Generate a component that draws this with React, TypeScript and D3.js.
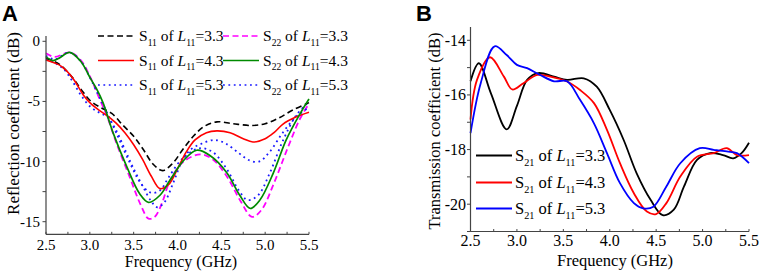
import React from "react";
import * as d3 from "d3";

// ---------- Panel A data (Reflection coefficient, dB) ----------
const fS11_33 = [2.5, 2.65, 2.8, 2.9, 3.0, 3.12, 3.25, 3.38, 3.5, 3.61, 3.72, 3.83, 3.95, 4.06, 4.18, 4.3, 4.45, 4.63, 4.85, 5.0, 5.15, 5.32, 5.5];
const vS11_33 = [-1.4, -1.9, -3.0, -4.0, -4.9, -5.5, -6.0, -7.0, -7.9, -9.0, -10.2, -10.75, -10.1, -9.0, -7.9, -7.1, -6.7, -6.85, -7.0, -6.85, -6.4, -5.7, -5.1];

const fS11_43 = [2.5, 2.6, 2.68, 2.8, 2.93, 3.0, 3.1, 3.2, 3.3, 3.4, 3.5, 3.6, 3.7, 3.8, 3.9, 4.0, 4.1, 4.2, 4.33, 4.45, 4.6, 4.75, 4.86, 5.0, 5.1, 5.2, 5.35, 5.5];
const vS11_43 = [-1.55, -1.8, -2.1, -3.0, -4.5, -5.1, -5.7, -6.2, -6.8, -7.6, -8.6, -9.8, -11.2, -12.25, -11.9, -10.6, -9.2, -8.2, -7.6, -7.45, -7.6, -8.1, -8.37, -8.1, -7.6, -6.9, -6.3, -5.9];

const fS11_53 = [2.5, 2.6, 2.7, 2.8, 2.9, 3.0, 3.1, 3.2, 3.3, 3.4, 3.5, 3.6, 3.7, 3.77, 3.85, 3.95, 4.05, 4.15, 4.28, 4.42, 4.55, 4.7, 4.82, 4.93, 5.05, 5.2, 5.35, 5.5];
const vS11_53 = [-1.5, -1.8, -2.3, -3.3, -4.5, -5.4, -5.9, -6.3, -7.4, -9.0, -10.6, -12.0, -13.3, -13.8, -13.4, -11.8, -10.0, -9.0, -8.5, -8.2, -8.5, -9.3, -9.9, -10.0, -9.2, -7.6, -6.3, -5.5];

const fS22_33 = [2.5, 2.6, 2.77, 2.9, 3.0, 3.1, 3.2, 3.3, 3.45, 3.58, 3.67, 3.74, 3.82, 3.92, 4.07, 4.26, 4.4, 4.56, 4.72, 4.85, 4.96, 5.1, 5.25, 5.4, 5.5];
const vS22_33 = [-1.0, -1.3, -0.92, -1.6, -2.9, -4.6, -6.3, -8.4, -11.2, -13.6, -14.75, -14.6, -13.5, -11.5, -10.0, -9.4, -9.8, -11.2, -13.3, -14.6, -14.0, -11.8, -9.0, -6.4, -5.2];

const fS22_43 = [2.5, 2.58, 2.65, 2.77, 2.9, 3.0, 3.08, 3.15, 3.27, 3.42, 3.57, 3.67, 3.8, 3.91, 4.07, 4.22, 4.37, 4.56, 4.71, 4.83, 4.94, 5.09, 5.24, 5.4, 5.5];
const vS22_43 = [-1.3, -1.6, -1.4, -0.92, -1.7, -3.0, -4.0, -5.1, -7.7, -10.4, -12.7, -13.4, -12.8, -11.6, -9.9, -9.06, -9.5, -10.9, -12.8, -13.9, -13.2, -11.0, -8.2, -6.0, -4.8];

const fS22_53 = [2.5, 2.6, 2.77, 2.9, 3.0, 3.1, 3.2, 3.3, 3.45, 3.58, 3.7, 3.8, 3.9, 4.05, 4.25, 4.4, 4.56, 4.7, 4.8, 4.92, 5.05, 5.2, 5.35, 5.5];
const vS22_53 = [-1.2, -1.5, -0.92, -1.7, -3.0, -4.5, -6.0, -7.6, -10.0, -11.8, -12.6, -12.4, -11.3, -9.8, -8.9, -9.2, -10.6, -12.4, -13.2, -12.8, -11.0, -8.3, -6.2, -5.0];

// ---------- Panel B data (Transmission coefficient, dB) ----------
const fS21_33 = [2.5, 2.59, 2.72, 2.89, 3.0, 3.11, 3.23, 3.4, 3.54, 3.72, 3.86, 4.0, 4.15, 4.29, 4.44, 4.57, 4.69, 4.8, 4.94, 5.08, 5.22, 5.33, 5.42, 5.5];
const vS21_33 = [-15.5, -14.84, -15.94, -17.26, -16.4, -15.45, -15.2, -15.33, -15.45, -15.39, -15.7, -16.55, -17.65, -18.87, -19.84, -20.4, -20.2, -19.35, -18.38, -18.13, -18.2, -18.32, -18.13, -17.75];

const fS21_43 = [2.5, 2.57, 2.71, 2.86, 2.95, 3.07, 3.22, 3.36, 3.54, 3.68, 3.83, 3.97, 4.11, 4.26, 4.4, 4.5, 4.61, 4.76, 4.94, 5.12, 5.26, 5.37, 5.5];
const vS21_43 = [-16.9, -15.45, -14.62, -15.33, -15.8, -15.57, -15.27, -15.33, -15.51, -15.82, -16.3, -17.28, -18.5, -19.6, -20.27, -20.36, -19.96, -18.99, -18.26, -18.13, -17.95, -18.2, -18.2];

const fS21_53 = [2.5, 2.61, 2.76, 2.89, 3.0, 3.11, 3.25, 3.4, 3.54, 3.68, 3.83, 3.97, 4.11, 4.26, 4.36, 4.47, 4.61, 4.76, 4.97, 5.12, 5.26, 5.37, 5.5];
const vS21_53 = [-17.4, -15.57, -14.22, -14.54, -14.9, -15.02, -15.27, -15.5, -15.5, -16.18, -17.04, -18.13, -19.23, -19.96, -20.15, -20.09, -19.35, -18.5, -17.95, -18.01, -18.07, -18.13, -18.5];

// ---------- ticks ----------
const xTicks = [2.5, 3.0, 3.5, 4.0, 4.5, 5.0, 5.5];
const yTicksA = [0, -5, -10, -15];
const yTicksB = [-14, -16, -18, -20];

const zip = (f: number[], v: number[]) => f.map((x, i) => [x, v[i]] as [number, number]);

const SERIF = "'Liberation Serif', 'Times New Roman', serif";

function LegendText({ x, y, sub, val, size }: { x: number; y: number; sub: string; val: string; size: number }) {
  const s = size * 0.62;
  const d = size * 0.3;
  return (
    <text x={x} y={y} fontFamily={SERIF} fontSize={size} fill="#000">
      S
      <tspan dy={d} fontSize={s}>{sub}</tspan>
      <tspan dy={-d}>{"\u00a0of\u00a0"}</tspan>
      <tspan fontStyle="italic">L</tspan>
      <tspan dy={d} fontSize={s}>11</tspan>
      <tspan dy={-d}>{"=" + val}</tspan>
    </text>
  );
}

export default function App() {
  // Panel A scales
  const xA = d3.scaleLinear().domain([2.5, 5.5]).range([46, 309]);
  const yA = d3.scaleLinear().domain([0, -15]).range([41.3, 221.7]);
  const botA = yA(-16.05);
  const topA = 36;
  // Panel B scales
  const xB = d3.scaleLinear().domain([2.5, 5.5]).range([470.5, 749]);
  const yB = d3.scaleLinear().domain([-14, -20]).range([40.3, 204.2]);
  const botB = yB(-21);
  const topB = 27;

  const lineA = d3.line<[number, number]>().x((d) => xA(d[0])).y((d) => yA(d[1])).curve(d3.curveCatmullRom.alpha(0.5));
  const lineB = d3.line<[number, number]>().x((d) => xB(d[0])).y((d) => yB(d[1])).curve(d3.curveCatmullRom.alpha(0.5));

  const seriesA = [
    { f: fS22_33, v: vS22_33, color: "#ff00ff", dash: "6 3.5", w: 1.8 },
    { f: fS22_53, v: vS22_53, color: "#1a1aff", dash: "1.8 3.6", w: 1.8 },
    { f: fS11_53, v: vS11_53, color: "#1a1aff", dash: "1.8 3.6", w: 1.8 },
    { f: fS11_33, v: vS11_33, color: "#000000", dash: "6 3.5", w: 1.6 },
    { f: fS11_43, v: vS11_43, color: "#ff0000", dash: undefined, w: 1.6 },
    { f: fS22_43, v: vS22_43, color: "#008a00", dash: undefined, w: 1.7 },
  ];
  const seriesB = [
    { f: fS21_33, v: vS21_33, color: "#000000" },
    { f: fS21_43, v: vS21_43, color: "#ff0000" },
    { f: fS21_53, v: vS21_53, color: "#0000ff" },
  ];

  const minorXA = d3.range(2.5, 5.51, 0.25);
  const minorYA = d3.range(0, -16.01, -2.5);
  const minorYB = d3.range(-14, -21.01, -1);

  const legA = [
    { col: 0, row: 0, sub: "11", val: "3.3", color: "#000", dash: "6 3.5" },
    { col: 1, row: 0, sub: "22", val: "3.3", color: "#ff00ff", dash: "6 3.5" },
    { col: 0, row: 1, sub: "11", val: "4.3", color: "#ff0000", dash: undefined },
    { col: 1, row: 1, sub: "22", val: "4.3", color: "#008a00", dash: undefined },
    { col: 0, row: 2, sub: "11", val: "5.3", color: "#1a1aff", dash: "1.8 3.6" },
    { col: 1, row: 2, sub: "22", val: "5.3", color: "#1a1aff", dash: "1.8 3.6" },
  ];
  const legColLine = [[98, 134], [223, 259]];
  const legColText = [139, 263];
  const legRowY = [36, 60.5, 85];

  const legB = [
    { val: "3.3", color: "#000" },
    { val: "4.3", color: "#ff0000" },
    { val: "5.3", color: "#0000ff" },
  ];
  const legBY = [155.5, 182.5, 208.5];

  return (
    <svg width={761} height={273} style={{ position: "absolute", left: 0, top: 0, background: "#fff" }}>
      <rect width={761} height={273} fill="#fff" />
      {/* Panel letters */}
      <text x={2} y={21} fontFamily="'Liberation Sans', Arial, sans-serif" fontWeight="bold" fontSize={22}>A</text>
      <text x={416} y={20.5} fontFamily="'Liberation Sans', Arial, sans-serif" fontWeight="bold" fontSize={22}>B</text>

      {/* ---------- Panel A ---------- */}
      <g>
        {seriesA.map((s, i) => (
          <path key={i} d={lineA(zip(s.f, s.v)) || ""} fill="none" stroke={s.color} strokeWidth={s.w} strokeDasharray={s.dash} />
        ))}
        <line x1={46} x2={46} y1={topA} y2={botA} stroke="#444" strokeWidth={1.2} />
        <line x1={46} x2={309} y1={botA} y2={botA} stroke="#444" strokeWidth={1.2} />
        {minorXA.map((t, i) => (
          <line key={i} x1={xA(t)} x2={xA(t)} y1={botA} y2={botA - 2.5} stroke="#444" strokeWidth={1} />
        ))}
        {minorYA.map((t, i) => (
          <line key={i} x1={46} x2={42.5} y1={yA(t)} y2={yA(t)} stroke="#444" strokeWidth={1} />
        ))}
        {xTicks.map((t) => (
          <text key={t} x={xA(t)} y={249.5} textAnchor="middle" fontFamily={SERIF} fontSize={15}>{t.toFixed(1)}</text>
        ))}
        {yTicksA.map((t) => (
          <text key={t} x={40} y={yA(t) + 5} textAnchor="end" fontFamily={SERIF} fontSize={15}>{t}</text>
        ))}
        <text x={181} y={267} textAnchor="middle" fontFamily={SERIF} fontSize={16}>Frequency (GHz)</text>
        <text transform={`translate(19,123.5) rotate(-90)`} textAnchor="middle" fontFamily={SERIF} fontSize={17}>Reflection coefficient (dB)</text>
        {legA.map((l, i) => (
          <g key={i}>
            <line x1={legColLine[l.col][0]} x2={legColLine[l.col][1]} y1={legRowY[l.row]} y2={legRowY[l.row]} stroke={l.color} strokeWidth={1.7} strokeDasharray={l.dash} />
            <LegendText x={legColText[l.col]} y={legRowY[l.row] + 5} sub={l.sub} val={l.val} size={15.5} />
          </g>
        ))}
      </g>

      {/* ---------- Panel B ---------- */}
      <g>
        {seriesB.map((s, i) => (
          <path key={i} d={lineB(zip(s.f, s.v)) || ""} fill="none" stroke={s.color} strokeWidth={1.8} />
        ))}
        <line x1={470.5} x2={470.5} y1={topB} y2={botB} stroke="#444" strokeWidth={1.2} />
        <line x1={470.5} x2={749} y1={botB} y2={botB} stroke="#444" strokeWidth={1.2} />
        {minorXA.map((t, i) => (
          <line key={i} x1={xB(t)} x2={xB(t)} y1={botB} y2={botB - 2.5} stroke="#444" strokeWidth={1} />
        ))}
        {minorYB.map((t, i) => (
          <line key={i} x1={470.5} x2={467} y1={yB(t)} y2={yB(t)} stroke="#444" strokeWidth={1} />
        ))}
        {xTicks.map((t) => (
          <text key={t} x={xB(t)} y={246} textAnchor="middle" fontFamily={SERIF} fontSize={16}>{t.toFixed(1)}</text>
        ))}
        {yTicksB.map((t) => (
          <text key={t} x={466} y={yB(t) + 5.5} textAnchor="end" fontFamily={SERIF} fontSize={16}>{t}</text>
        ))}
        <text x={615} y={266} textAnchor="middle" fontFamily={SERIF} fontSize={16.5}>Frequency (GHz)</text>
        <text transform={`translate(440,131) rotate(-90)`} textAnchor="middle" fontFamily={SERIF} fontSize={16.5}>Transmission coefficient (dB)</text>
        {legB.map((l, i) => (
          <g key={i}>
            <line x1={476} x2={512} y1={legBY[i]} y2={legBY[i]} stroke={l.color} strokeWidth={2} />
            <LegendText x={515} y={legBY[i] + 5.5} sub="21" val={l.val} size={16.5} />
          </g>
        ))}
      </g>
    </svg>
  );
}
